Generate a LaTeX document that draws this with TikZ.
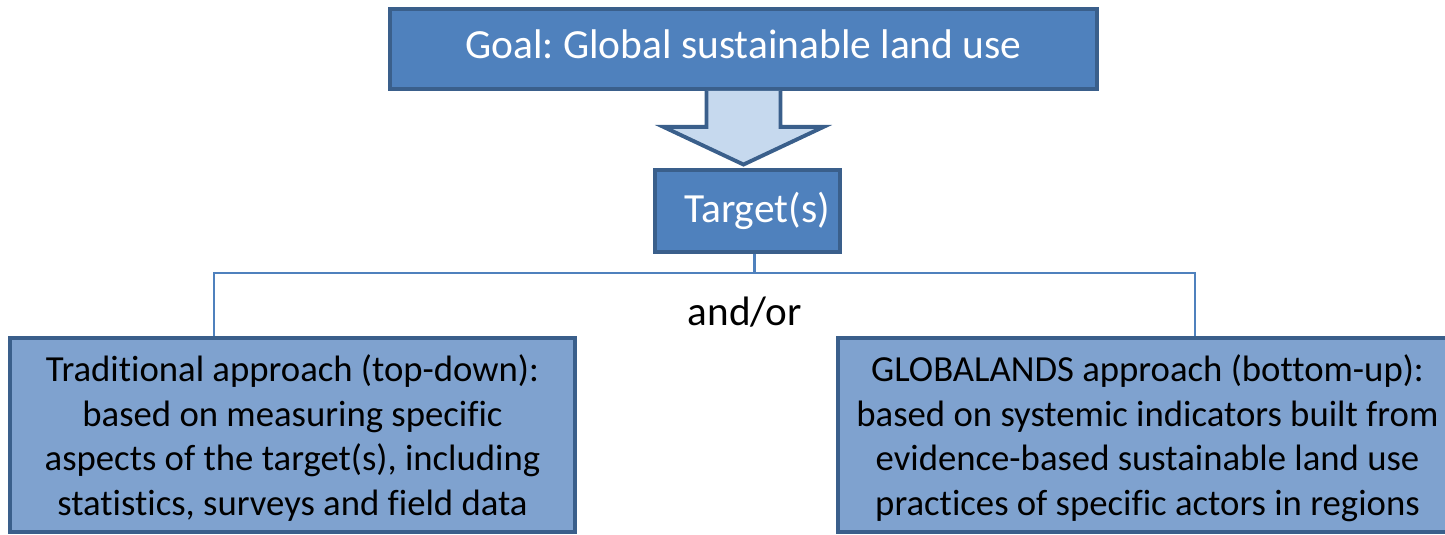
\documentclass[tikz,border=0pt]{standalone}
\usepackage{fontspec}
\setmainfont{Carlito}[Ligatures={NoCommon}]
\usepackage{tikz}
\usepackage{xcolor}
\definecolor{goalblue}{HTML}{4F81BD}
\definecolor{edgeblue}{HTML}{3A5F8B}
\definecolor{arrowfill}{HTML}{C6D9EE}
\definecolor{approachblue}{HTML}{7FA2CF}
\frenchspacing

\begin{document}
\begin{tikzpicture}[
    headbox/.style={draw=edgeblue, line width=1.1pt, fill=goalblue, text=white, inner sep=0pt, font=\fontsize{11.8}{14}\selectfont},
    approachbox/.style={draw=edgeblue, line width=1.1pt, fill=approachblue, align=center, inner sep=0pt, text depth=-0.8pt, font=\fontsize{10.45}{12.7}\selectfont},
    link/.style={draw=goalblue, line width=0.6pt},
    bigarrow/.style={draw=edgeblue, line width=1.1pt, fill=arrowfill, line join=miter}
]
\useasboundingbox (0,0) rectangle (14.45,-5.35);

\node [headbox, minimum width=7.07cm, minimum height=0.8cm, text depth=2.8pt] (goal) at (7.435,-0.49) {Goal: Global sustainable land use};
\node [headbox, minimum width=1.85cm, minimum height=0.82cm] (target) at (7.475,-2.11) {\hspace*{0.19cm}Target(s)};

% block arrow from goal down to target
\draw [bigarrow] ([xshift=-0.37cm]goal.south) -- ++(0,-0.36) -- ++(-0.43,0)
    -- ([yshift=1pt]goal.south |- target.north) -- ([xshift=0.8cm,yshift=-0.36cm]goal.south)
    -- ++(-0.43,0) -- ([xshift=0.37cm]goal.south);

\node [approachbox, minimum width=5.65cm, minimum height=1.94cm] (trad) at (2.925,-4.35) {Traditional approach (top-down):\\ based on measuring specific\\ aspects of the target(s), including\\ statistics, surveys and field data};
\node [approachbox, minimum width=6.19cm, minimum height=1.94cm] (globa) at (11.475,-4.35) {GLOBALANDS approach (bottom-up):\\ based on systemic indicators built from\\ evidence-based sustainable land use\\ practices of specific actors in regions};

\node [font=\fontsize{11.7}{14}\selectfont] (andor) at (7.45,-3.12) {and/or};

% split line to both approaches
\draw [link] ([xshift=0.07cm]target.south) -- ++(0,-0.19) coordinate (split);
\draw [link] (split) -| ([xshift=-0.785cm]trad.north);
\draw [link] (split) -| ([xshift=0.475cm]globa.north);
\end{tikzpicture}
\end{document}
